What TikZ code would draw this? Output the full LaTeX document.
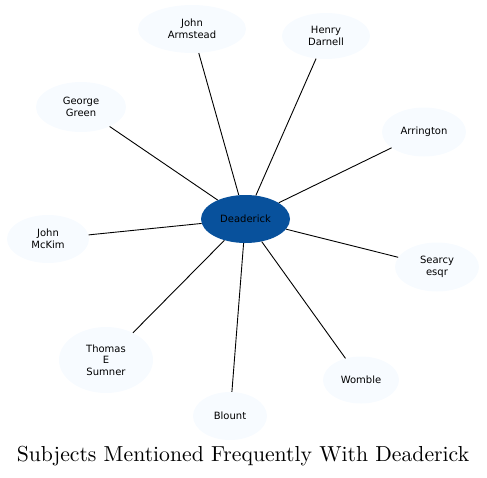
\documentclass[tikz,border=0pt]{standalone}
\usepackage{fontspec}
\usepackage{graphicx}
\usetikzlibrary{shapes.geometric}
\newfontfamily\nodefont{DejaVu Sans}
\definecolor{hubblue}{HTML}{08519C}
\definecolor{leafblue}{HTML}{F7FBFF}
\begin{document}
\begin{tikzpicture}[x=1pt,y=-1pt,
  leaf/.style={ellipse,fill=leafblue,draw=none,inner sep=0pt,align=center,
    font=\nodefont\fontsize{10}{11.6}\selectfont},
  hub/.style={ellipse,fill=hubblue,draw=none,inner sep=0pt,align=center,
    font=\nodefont\fontsize{10}{11.6}\selectfont,minimum width=89pt,minimum height=48pt},
  link/.style={draw=black,line width=0.9pt}]
\useasboundingbox (0,0) rectangle (487,477);
\node[hub] (d) at (245.5,219) {Deaderick};
\node[leaf,minimum width=108pt,minimum height=48pt] (ja) at (192,29) {John\\Armstead};
\node[leaf,minimum width=88pt,minimum height=46pt] (hd) at (326,36) {Henry\\Darnell};
\node[leaf,minimum width=90pt,minimum height=50pt] (gg) at (81,107) {George\\Green};
\node[leaf,minimum width=84pt,minimum height=49pt] (ar) at (424,132) {Arrington};
\node[leaf,minimum width=82pt,minimum height=48pt] (jm) at (48,239) {John\\McKim};
\node[leaf,minimum width=84pt,minimum height=49pt] (se) at (437,267) {Searcy\\esqr};
\node[leaf,minimum width=94pt,minimum height=66pt] (ts) at (106,360) {Thomas\\E\\Sumner};
\node[leaf,minimum width=76pt,minimum height=47pt] (wo) at (361,380) {Womble};
\node[leaf,minimum width=74pt,minimum height=48pt] (bl) at (230,416) {Blount};
\foreach \n in {ja,hd,gg,ar,jm,se,ts,wo,bl} \draw[link] (d) -- (\n);
\node[inner sep=0pt] (title) at (243,456) {\scalebox{2.17}{\fontsize{10}{12}\selectfont Subjects Mentioned Frequently With Deaderick}};
\end{tikzpicture}
\end{document}
